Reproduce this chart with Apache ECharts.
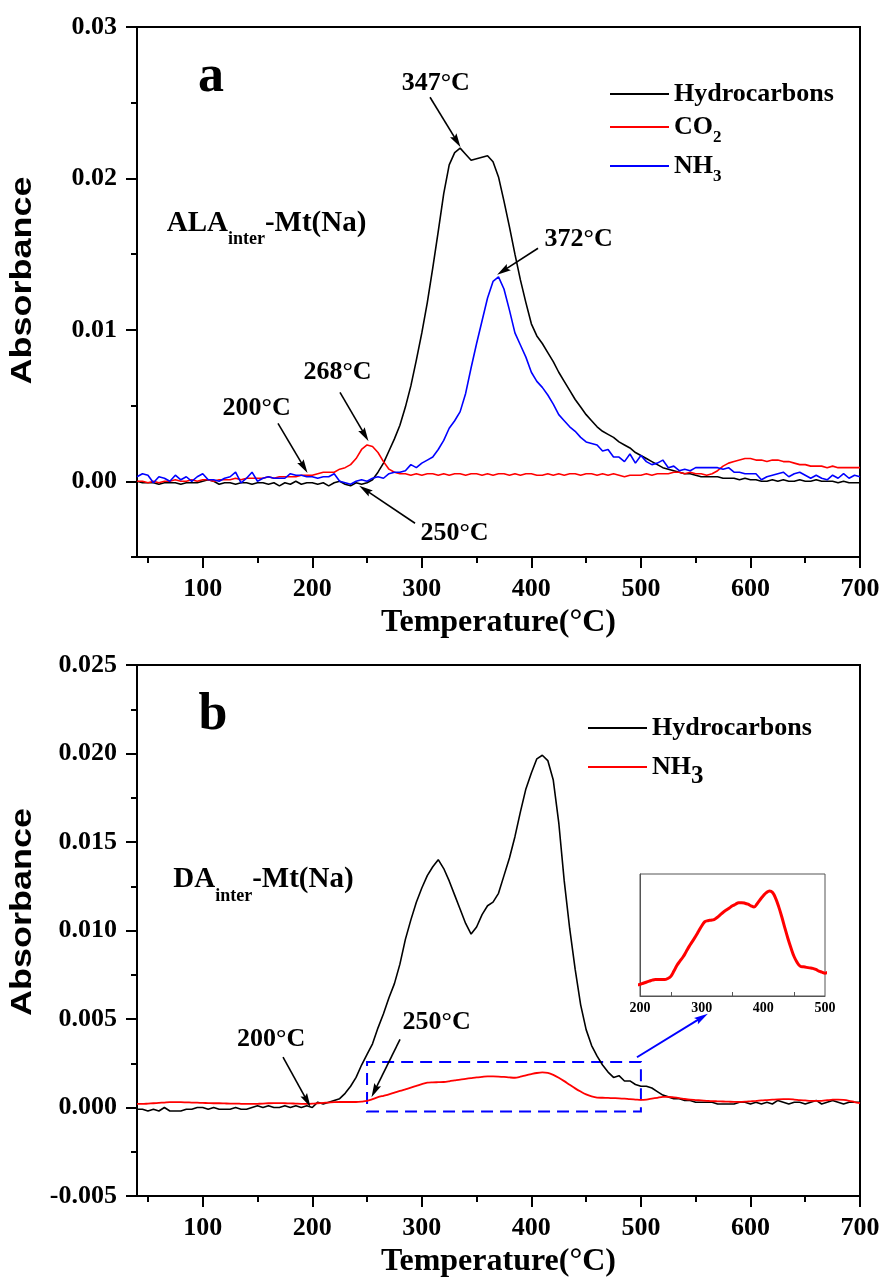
<!DOCTYPE html>
<html><head><meta charset="utf-8">
<script src="https://cdn.jsdelivr.net/npm/echarts@6/dist/echarts.min.js"></script>
<style>html,body{margin:0;padding:0;background:#fff}#c{width:883px;height:1279px}</style>
</head><body><div id="c"></div>
<script>
// ---------- DATA ----------
const temps = [
40,45,50,55,60,65,70,75,80,85,
90,95,100,105,110,115,120,125,130,135,
140,145,150,155,160,165,170,175,180,185,
190,195,200,205,210,215,220,225,230,235,
240,245,250,255,260,265,270,275,280,285,
290,295,300,305,310,315,320,325,330,335,
340,345,350,355,360,365,370,375,380,385,
390,395,400,405,410,415,420,425,430,435,
440,445,450,455,460,465,470,475,480,485,
490,495,500,505,510,515,520,525,530,535,
540,545,550,555,560,565,570,575,580,585,
590,595,600,605,610,615,620,625,630,635,
640,645,650,655,660,665,670,675,680,685,
690,695,700];

// Panel a: ALA_inter-Mt(Na)
const aHydro = [
0.0000,-0.0001,-0.0001,-0.0001,-0.0002,-0.0001,-0.0001,-0.0001,-0.0002,-0.0001,
-0.0001,-0.0001,0.0000,0.0001,0.0000,-0.0002,-0.0001,-0.0001,-0.0002,-0.0001,
-0.0001,-0.0002,-0.0001,-0.0001,-0.0002,-0.0001,-0.0003,-0.0001,-0.0002,0.0000,
-0.0002,-0.0001,-0.0001,-0.0002,-0.0001,-0.0003,-0.0001,0.0000,-0.0002,-0.0003,
-0.0001,-0.0002,-0.0001,0.0001,0.0006,0.0012,0.0020,0.0028,0.0037,0.0049,
0.0063,0.0080,0.0098,0.0118,0.0141,0.0165,0.0190,0.0209,0.0217,0.0220,
0.0216,0.0212,0.0213,0.0214,0.0215,0.0211,0.0201,0.0185,0.0168,0.0150,
0.0133,0.0118,0.0104,0.0096,0.0091,0.0085,0.0079,0.0072,0.0066,0.0060,
0.0054,0.0049,0.0044,0.0040,0.0036,0.0033,0.0031,0.0029,0.0026,0.0024,
0.0022,0.0019,0.0017,0.0015,0.0013,0.0011,0.0009,0.0008,0.0007,0.0006,
0.0005,0.0005,0.0004,0.0003,0.0003,0.0003,0.0003,0.0002,0.0002,0.0002,
0.0001,0.0002,0.0001,0.0001,0.0000,0.0000,0.0001,0.0000,0.0001,0.0000,
0.0000,0.0001,0.0000,0.0000,0.0001,0.0000,0.0000,0.0000,-0.0001,0.0000,
-0.0001,-0.0001,-0.0001];

const aCO2 = [
0.0000,0.0000,-0.0001,0.0000,-0.0001,0.0000,0.0000,0.0001,0.0000,0.0000,
0.0001,0.0000,0.0001,0.0001,0.0000,0.0001,0.0001,0.0001,0.0002,0.0001,
0.0002,0.0002,0.0002,0.0002,0.0003,0.0002,0.0003,0.0003,0.0003,0.0003,
0.0004,0.0004,0.0004,0.0005,0.0006,0.0006,0.0006,0.0008,0.0009,0.0011,
0.0015,0.0021,0.0024,0.0023,0.0019,0.0013,0.0008,0.0006,0.0005,0.0005,
0.0004,0.0005,0.0004,0.0005,0.0005,0.0004,0.0005,0.0004,0.0005,0.0005,
0.0004,0.0005,0.0005,0.0004,0.0005,0.0004,0.0005,0.0005,0.0004,0.0005,
0.0004,0.0005,0.0005,0.0004,0.0004,0.0005,0.0004,0.0005,0.0004,0.0005,
0.0005,0.0004,0.0005,0.0005,0.0004,0.0005,0.0004,0.0005,0.0004,0.0003,
0.0004,0.0004,0.0004,0.0005,0.0004,0.0005,0.0005,0.0005,0.0006,0.0006,
0.0005,0.0006,0.0005,0.0005,0.0004,0.0005,0.0007,0.0010,0.0012,0.0013,
0.0014,0.0015,0.0015,0.0014,0.0014,0.0013,0.0014,0.0014,0.0013,0.0013,
0.0012,0.0011,0.0011,0.0010,0.0010,0.0010,0.0009,0.0010,0.0009,0.0009,
0.0009,0.0009,0.0009];

const aNH3 = [
0.0003,0.0005,0.0004,-0.0001,0.0003,0.0002,0.0000,0.0004,0.0001,0.0003,
0.0000,0.0003,0.0005,0.0001,0.0001,0.0000,0.0002,0.0003,0.0006,-0.0001,
0.0002,0.0006,0.0000,0.0002,0.0003,0.0002,0.0002,0.0002,0.0005,0.0004,
0.0004,0.0003,0.0003,0.0002,0.0003,0.0003,0.0005,0.0000,-0.0001,-0.0002,
0.0000,0.0001,0.0000,0.0002,0.0003,0.0002,0.0005,0.0006,0.0006,0.0007,
0.0011,0.0009,0.0012,0.0014,0.0016,0.0021,0.0027,0.0035,0.0040,0.0046,
0.0058,0.0075,0.0091,0.0106,0.0121,0.0132,0.0135,0.0127,0.0113,0.0098,
0.0090,0.0082,0.0072,0.0066,0.0062,0.0057,0.0051,0.0044,0.0040,0.0036,
0.0033,0.0029,0.0026,0.0025,0.0024,0.0020,0.0021,0.0016,0.0016,0.0013,
0.0018,0.0012,0.0017,0.0013,0.0011,0.0012,0.0014,0.0009,0.0010,0.0007,
0.0008,0.0007,0.0009,0.0009,0.0009,0.0009,0.0009,0.0008,0.0009,0.0006,
0.0006,0.0005,0.0005,0.0005,0.0001,0.0003,0.0004,0.0005,0.0006,0.0003,
0.0005,0.0006,0.0004,0.0002,0.0004,0.0002,0.0001,0.0004,0.0002,0.0005,
0.0002,0.0004,0.0003];

// Panel b: DA_inter-Mt(Na)
const bHydro = [
-0.0001,-0.0001,-0.0002,-0.0001,-0.0002,0.0000,-0.0002,-0.0002,-0.0002,-0.0001,
-0.0001,0.0000,0.0000,-0.0001,0.0000,-0.0001,-0.0001,-0.0001,0.0000,-0.0001,
-0.0001,0.0000,0.0001,0.0000,0.0001,0.0000,0.0000,0.0001,0.0000,0.0001,
0.0000,0.0001,0.0000,0.0003,0.0002,0.0003,0.0004,0.0005,0.0008,0.0012,
0.0017,0.0024,0.0030,0.0036,0.0045,0.0053,0.0062,0.0070,0.0081,0.0095,
0.0106,0.0116,0.0124,0.0131,0.0136,0.0140,0.0135,0.0128,0.0120,0.0112,
0.0104,0.0098,0.0102,0.0109,0.0114,0.0116,0.0121,0.0131,0.0141,0.0153,
0.0167,0.0180,0.0189,0.0197,0.0199,0.0196,0.0185,0.0161,0.0128,0.0101,
0.0078,0.0058,0.0044,0.0035,0.0029,0.0024,0.0020,0.0017,0.0018,0.0015,
0.0015,0.0013,0.0012,0.0012,0.0011,0.0009,0.0007,0.0006,0.0005,0.0005,
0.0004,0.0004,0.0003,0.0003,0.0003,0.0003,0.0002,0.0002,0.0002,0.0002,
0.0003,0.0003,0.0002,0.0003,0.0002,0.0003,0.0002,0.0004,0.0003,0.0002,
0.0003,0.0003,0.0002,0.0003,0.0004,0.0002,0.0003,0.0004,0.0003,0.0002,
0.0003,0.0003,0.0003];

const bNH3 = [
0.00020,0.00020,0.00022,0.00024,0.00026,0.00028,0.00030,0.00030,0.00030,0.00029,
0.00028,0.00027,0.00026,0.00025,0.00024,0.00024,0.00023,0.00022,0.00022,0.00021,
0.00020,0.00020,0.00021,0.00022,0.00024,0.00025,0.00025,0.00024,0.00023,0.00022,
0.00021,0.00021,0.00022,0.00024,0.00026,0.00028,0.00030,0.00031,0.00031,0.00031,
0.00031,0.00033,0.00037,0.00047,0.00058,0.00066,0.00074,0.00084,0.00094,0.00103,
0.00112,0.00122,0.00132,0.00140,0.00142,0.00143,0.00144,0.00148,0.00153,0.00158,
0.00162,0.00166,0.00170,0.00173,0.00176,0.00176,0.00175,0.00173,0.00170,0.00168,
0.00174,0.00182,0.00189,0.00195,0.00198,0.00195,0.00184,0.00168,0.00149,0.00128,
0.00108,0.00090,0.00074,0.00063,0.00056,0.00055,0.00054,0.00053,0.00052,0.00050,
0.00047,0.00045,0.00043,0.00045,0.00050,0.00055,0.00060,0.00060,0.00057,0.00053,
0.00048,0.00044,0.00042,0.00040,0.00038,0.00036,0.00035,0.00034,0.00033,0.00032,
0.00032,0.00033,0.00035,0.00037,0.00040,0.00042,0.00044,0.00046,0.00047,0.00047,
0.00045,0.00042,0.00040,0.00038,0.00037,0.00038,0.00041,0.00044,0.00045,0.00043,
0.00038,0.00031,0.00025];

// Tick values
const xMajorTicks = [100,200,300,400,500,600,700];
const xMinorTicks = [50,150,250,350,450,550,650];
const aYMajor = [0,0.01,0.02,0.03];
const aYMinor = [-0.005,0.005,0.015,0.025];
const bYMajor = [-0.005,0,0.005,0.010,0.015,0.020,0.025];
const bYMinor = [-0.0025,0.0025,0.0075,0.0125,0.0175,0.0225];
const insetXLabels = [200,300,400,500];
const insetXTicks = [250,350,450];

// Annotation arrows [fromT, fromAbs, toT, toAbs]
const aArrows = [
  [307.5, 0.02536, 332.0, 0.02246],
  [406.1, 0.01539, 374.1, 0.01389],
  [225.3, 0.00587, 248.1, 0.00305],
  [168.7, 0.00383, 192.4, 0.00094],
  [293.8, -0.00277, 248.1, -0.00055]
];
const bArrows = [
  [173.3, 0.00284, 195.3, 0.00037],
  [280.1, 0.00385, 256.9, 0.00094]
];
const bZoomArrow = [496.4, 0.00284, 555.7, 0.00509];
const bZoomBox = [250, -0.00022, 500, 0.00257];

// ---------- CHART ----------
const SERIF = "'Liberation Serif','Times New Roman',serif";
const SANS = "'Liberation Sans',Arial,sans-serif";
const pts = arr => temps.map((t, i) => [t, arr[i]]);
const arrowData = list => list.map(a => [{coord: [a[0], a[1]]}, {coord: [a[2], a[3]]}]);
// arrow head pointing up; degenerate sub-paths widen the box so the head keeps a slim aspect
const ARROW = 'path://M0,0L4,15L0,12.5L-4,15ZM-7.5,0L-7.5,0.01ZM7.5,0L7.5,0.01Z';

function lineSeries(name, arr, color, xi, yi, width, extra) {
  return Object.assign({
    name, type: 'line', xAxisIndex: xi, yAxisIndex: yi, data: pts(arr),
    showSymbol: false, symbol: 'none', color,
    lineStyle: {color, width}, itemStyle: {color},
    emphasis: {disabled: true}, animation: false
  }, extra || {});
}
function arrowMark(list, color, width) {
  return {
    silent: true, animation: false, symbol: ['none', ARROW], symbolSize: 14,
    label: {show: false},
    lineStyle: {color, width, type: 'solid'},
    itemStyle: {color},
    data: arrowData(list)
  };
}

const axisFont = {color: '#000', fontFamily: SERIF, fontWeight: 'bold', fontSize: 26};
function xMain(grid, name) {
  return {
    type: 'value', gridIndex: grid, min: 40, max: 700, position: 'bottom',
    axisLine: {show: true, onZero: false, lineStyle: {color: '#000', width: 2}},
    axisTick: {show: true, length: 11, lineStyle: {color: '#000', width: 2}, customValues: xMajorTicks},
    axisLabel: Object.assign({margin: 19, customValues: xMajorTicks}, axisFont),
    splitLine: {show: false},
    name, nameLocation: 'middle', nameGap: 50,
    nameTextStyle: {color: '#000', fontFamily: SERIF, fontWeight: 'bold', fontSize: 32}
  };
}
function xMinor(grid) {
  return {
    type: 'value', gridIndex: grid, min: 40, max: 700, position: 'bottom',
    axisLine: {show: false, onZero: false},
    axisTick: {show: true, length: 6, lineStyle: {color: '#000', width: 2}, customValues: xMinorTicks},
    axisLabel: {show: false}, splitLine: {show: false}
  };
}
function yMain(grid, min, max, ticks, digits) {
  return {
    type: 'value', gridIndex: grid, min, max, position: 'left',
    axisLine: {show: true, onZero: false, lineStyle: {color: '#000', width: 2}},
    axisTick: {show: true, length: 11, lineStyle: {color: '#000', width: 2}, customValues: ticks},
    axisLabel: Object.assign({margin: 20, customValues: ticks, formatter: v => Number(v).toFixed(digits)}, axisFont),
    splitLine: {show: false}
  };
}
function yMinor(grid, min, max, ticks) {
  return {
    type: 'value', gridIndex: grid, min, max, position: 'left',
    axisLine: {show: false, onZero: false},
    axisTick: {show: true, length: 6, lineStyle: {color: '#000', width: 2}, customValues: ticks},
    axisLabel: {show: false}, splitLine: {show: false}
  };
}

const legendRich = {
  m: {fontFamily: SERIF, fontWeight: 'bold', fontSize: 26, lineHeight: 26, color: '#000', verticalAlign: 'middle'},
  s: {fontFamily: SERIF, fontWeight: 'bold', fontSize: 17, lineHeight: 17, color: '#000', verticalAlign: 'top', padding: [15, 0, 0, 0]},
  b: {fontFamily: SERIF, fontWeight: 'bold', fontSize: 25, lineHeight: 25, color: '#000', verticalAlign: 'top', padding: [10, 0, 0, 0]}
};
const legendLabels = {
  'Hydrocarbons': '{m|Hydrocarbons}',
  'CO2': '{m|CO}{s|2}',
  'NH3': '{m|NH}{s|3}',
  'Hydrocarbons (b)': '{m|Hydrocarbons}',
  'NH3 (b)': '{m|NH}{b|3}'
};
function legend(left, top, names, gap) {
  return {
    orient: 'vertical', left, top, padding: 0, itemGap: gap, icon: 'rect',
    itemWidth: 59, itemHeight: 2, selectedMode: false, data: names,
    formatter: n => legendLabels[n],
    textStyle: {fontFamily: SERIF, fontWeight: 'bold', fontSize: 26, color: '#000', rich: legendRich}
  };
}

const annoStyle = {fontFamily: SERIF, fontWeight: 'bold', fontSize: 26, fill: '#000',
  textAlign: 'center', textVerticalAlign: 'middle', align: 'center', verticalAlign: 'middle'};
function anno(text, x, y) { return {type: 'text', x, y, silent: true, style: Object.assign({text}, annoStyle)}; }
function bigLetter(text, x, y) {
  return {type: 'text', x, y, silent: true, style: Object.assign({}, annoStyle, {text, fontSize: 52})};
}
function yName(x, y) {
  return {type: 'text', x, y, rotation: Math.PI / 2, scaleX: 1.24, silent: true,
    style: {text: 'Absorbance', fontFamily: SANS, fontWeight: 'bold', fontSize: 29, fill: '#000',
      textAlign: 'center', textVerticalAlign: 'middle', align: 'center', verticalAlign: 'middle'}};
}
const sampleRich = {
  m: {fontFamily: SERIF, fontWeight: 'bold', fontSize: 29, lineHeight: 34, fill: '#000', color: '#000', verticalAlign: 'top'},
  s: {fontFamily: SERIF, fontWeight: 'bold', fontSize: 18, lineHeight: 18, fill: '#000', color: '#000', verticalAlign: 'top', padding: [22, 0, 0, 0]}
};
function sampleLabel(main, x, y) {
  return {type: 'text', x, y, silent: true,
    style: {text: '{m|' + main + '}{s|inter}{m|-Mt(Na)}', rich: sampleRich, fill: '#000',
      fontFamily: SERIF, fontWeight: 'bold', fontSize: 29,
      textAlign: 'left', textVerticalAlign: 'top', align: 'left', verticalAlign: 'top'}};
}

const option = {
  animation: false,
  backgroundColor: '#fff',
  grid: [
    {left: 137, top: 27, width: 723, height: 530, show: true, borderColor: '#000', borderWidth: 2, backgroundColor: 'transparent'},
    {left: 137, top: 665, width: 723, height: 532, show: true, borderColor: '#000', borderWidth: 2, backgroundColor: 'transparent'},
    {left: 640, top: 874, width: 185, height: 122, show: true, borderColor: '#555', borderWidth: 1, backgroundColor: '#fff'}
  ],
  xAxis: [
    xMain(0, 'Temperature(°C)'), xMinor(0),
    xMain(1, 'Temperature(°C)'), xMinor(1),
    {type: 'value', gridIndex: 2, min: 200, max: 500, position: 'bottom',
     axisLine: {show: true, onZero: false, lineStyle: {color: '#555', width: 1}},
     axisTick: {show: true, inside: true, length: 4, lineStyle: {color: '#555', width: 1}, customValues: insetXTicks},
     axisLabel: {margin: 5, customValues: insetXLabels, color: '#000', fontFamily: SERIF, fontWeight: 'bold', fontSize: 14},
     splitLine: {show: false}}
  ],
  yAxis: [
    yMain(0, -0.005, 0.03, aYMajor, 2), yMinor(0, -0.005, 0.03, aYMinor),
    yMain(1, -0.005, 0.025, bYMajor, 3), yMinor(1, -0.005, 0.025, bYMinor),
    {type: 'value', gridIndex: 2, min: 0, max: 0.0023, position: 'left',
     axisLine: {show: true, onZero: false, lineStyle: {color: '#555', width: 1}},
     axisTick: {show: false}, axisLabel: {show: false}, splitLine: {show: false}}
  ],
  legend: [
    legend(610, 81, ['Hydrocarbons', 'CO2', 'NH3'], 7),
    legend(588, 715, ['Hydrocarbons (b)', 'NH3 (b)'], 13)
  ],
  series: [
    lineSeries('Hydrocarbons', aHydro, '#000000', 0, 0, 1.6, {markLine: arrowMark(aArrows, '#000', 1.6)}),
    lineSeries('CO2', aCO2, '#ff0000', 0, 0, 1.6),
    lineSeries('NH3', aNH3, '#0000ff', 0, 0, 1.6),
    lineSeries('Hydrocarbons (b)', bHydro, '#000000', 2, 2, 1.6, {markLine: arrowMark(bArrows, '#000', 1.6)}),
    lineSeries('NH3 (b)', bNH3, '#ff0000', 2, 2, 1.8, {
      smooth: 0.3,
      markLine: arrowMark([bZoomArrow], '#0000ff', 2),
      markArea: {silent: true, animation: false, label: {show: false},
        itemStyle: {color: 'rgba(0,0,0,0)', borderColor: '#0000ff', borderWidth: 2, borderType: [12, 7]},
        data: [[{coord: [bZoomBox[0], bZoomBox[1]]}, {coord: [bZoomBox[2], bZoomBox[3]]}]]}
    }),
    lineSeries('NH3 inset', bNH3, '#ff0000', 4, 4, 3, {smooth: 0.4, clip: true})
  ],
  graphic: [
    yName(23.3, 280.5),
    yName(23.3, 912),
    bigLetter('a', 211, 78),
    bigLetter('b', 213, 716),
    sampleLabel('ALA', 166.7, 208.7),
    sampleLabel('DA', 173.3, 865.4),
    anno('347°C', 435.8, 83.3),
    anno('372°C', 578.7, 239),
    anno('268°C', 337.5, 372),
    anno('200°C', 256.7, 408.3),
    anno('250°C', 454.5, 533.7),
    anno('200°C', 271.2, 1039.3),
    anno('250°C', 436.7, 1022)
  ]
};

const chart = echarts.init(document.getElementById('c'), null, {renderer: 'canvas'});
chart.setOption(option);
</script>
</body></html>
